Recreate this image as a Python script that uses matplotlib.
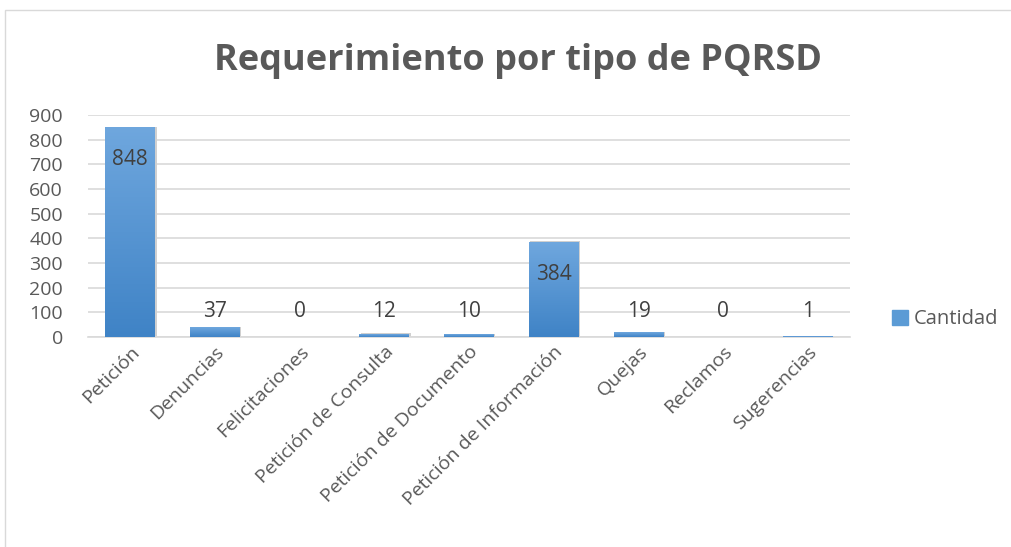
import matplotlib.pyplot as plt
import matplotlib.patches as mpatches
from matplotlib.colors import LinearSegmentedColormap
import numpy as np

categorias = ['Petición', 'Denuncias', 'Felicitaciones', 'Petición de Consulta',
              'Petición de Documento', 'Petición de Información', 'Quejas',
              'Reclamos', 'Sugerencias']
cantidad = [848, 37, 0, 12, 10, 384, 19, 0, 1]
y_ticks = [0, 100, 200, 300, 400, 500, 600, 700, 800, 900]

gris = '#595959'
plt.rcParams['font.family'] = ['Open Sans', 'DejaVu Sans']

fig = plt.figure(figsize=(10.11, 5.47), dpi=100)
ax = fig.add_axes([0.087, 0.384, 0.754, 0.406])

x = np.arange(len(categorias))
ancho = 0.59
barras = ax.bar(x, cantidad, width=ancho, color='#5b9bd5', zorder=2)

# degradado de cada barra (claro arriba, oscuro abajo)
grad = np.linspace(0, 1, 256).reshape(-1, 1)
cmap = LinearSegmentedColormap.from_list('azul', ['#3f83c6', '#6fa7de'])
for b in barras:
    h = b.get_height()
    if h <= 0:
        continue
    x0 = b.get_x()
    # sombra
    ax.add_patch(mpatches.Rectangle((x0 + 0.015, 0), ancho, h + 3, color='#d0d0d0',
                                    zorder=1.5, lw=0))
    ax.imshow(grad, cmap=cmap, origin='lower', aspect='auto',
              extent=[x0, x0 + ancho, 0, h], zorder=3)
    b.set_visible(False)

# etiquetas de valores
for xi, v in zip(x, cantidad):
    if v > 300:
        ax.annotate(str(v), (xi, v), xytext=(0, -23), textcoords='offset points',
                    ha='center', va='center', fontsize=15, color='#404040', zorder=4)
    else:
        ax.text(xi, 105, str(v), ha='center', va='center', fontsize=15,
                color='#404040', zorder=4)

ax.set_xlim(-0.5, len(categorias) - 0.5)
ax.set_ylim(0, 900)
ax.set_yticks(y_ticks)
ax.set_yticklabels([str(t) for t in y_ticks], fontsize=14, color=gris)
ax.set_xticks(x)
ax.set_xticklabels(categorias, rotation=45, ha='right', rotation_mode='anchor',
                   fontsize=14, color=gris)
ax.tick_params(axis='y', length=0, pad=18)
ax.tick_params(axis='x', length=0, pad=4)
ax.grid(axis='y', color='#d9d9d9', lw=1.2, zorder=0)
ax.set_axisbelow(True)
for s in ['top', 'right', 'left']:
    ax.spines[s].set_visible(False)
ax.spines['bottom'].set_color('#d9d9d9')
ax.spines['bottom'].set_linewidth(1.2)

fig.text(0.512, 0.889, 'Requerimiento por tipo de PQRSD', ha='center', va='center',
         fontsize=26, fontweight='bold', color=gris)

# leyenda
fig.legend(handles=[mpatches.Patch(color='#5b9bd5', label='Cantidad')],
           loc='center left', bbox_to_anchor=(0.864, 0.416), frameon=False,
           fontsize=14.5, handlelength=0.8, handleheight=0.8, handletextpad=0.3,
           labelcolor=gris)

# borde del gráfico
fig.add_artist(mpatches.Rectangle((0.005, -0.1), 1.2, 1.082, transform=fig.transFigure,
                                  fill=False, edgecolor='#d9d9d9', lw=1))

fig.savefig('out.png', dpi=100)
